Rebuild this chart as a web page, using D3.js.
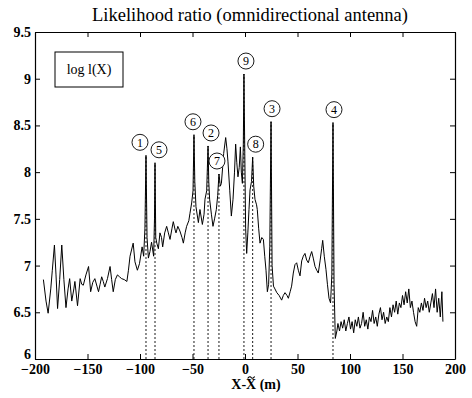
<!DOCTYPE html>
<html><head><meta charset="utf-8">
<script src="https://cdn.jsdelivr.net/npm/d3@7"></script>
<style>
html,body{margin:0;padding:0;background:#fff;}
svg{display:block;}
text{font-family:"Liberation Serif","Times New Roman",serif;fill:#000;}
</style></head>
<body>
<svg id="chart" width="472" height="398"></svg>
<script>
const titleText = "Likelihood ratio (omnidirectional antenna)";
const xLabelText = "X-X (m)";
const legendText = "log l(X)";
const xTicks = [-200,-150,-100,-50,0,50,100,150,200];
const yTicks = [6,6.5,7,7.5,8,8.5,9,9.5];

const posX = [-192,-189.5,-187.5,-185,-183.5,-181.5,-180,-178.5,-176.5,-174.5,-172.5,-170.5,-168.5,-167,-165,-163,-162,-159.5,-157,-155.5,-154,-151.5,-149,-147,-145,-143,-141,-139.5,-138,-136.5,-135,-133.5,-131,-128.5,-127,-125.5,-123.5,-121.5,-119.5,-117.5,-115,-112.5,-111,-109.5,-106.5,-104.8,-102.5,-100.5,-98,-96.5,-95.3,-94.3,-93.3,-92,-90.5,-89,-87,-86.2,-85.7,-85,-84,-82.5,-81,-79.5,-78.4,-76.5,-74.6,-73,-71.4,-69.5,-68.3,-66.5,-65.7,-64,-62,-60,-58.7,-57,-55.6,-53.5,-52.4,-50.8,-49.5,-48.6,-47.8,-46.7,-44.4,-42.9,-40.6,-39,-38.1,-36.5,-35.2,-34.5,-33.7,-32,-30.5,-29,-27.3,-26,-24.8,-23.5,-22.5,-21.3,-20.3,-18.4,-17.2,-16.2,-14.5,-13,-11.4,-10,-8.9,-7.8,-6.7,-5.5,-4.4,-3.5,-2.5,-1.6,-1,-0.2,0.6,1.6,2.7,3.8,4.8,6.2,7.3,8.3,9.5,11,11.7,13,14.3,16,17.5,18.8,20,21.3,22.5,23.6,24.8,25.8,27.1,28.5,30.3,32.5,34.9,36.5,38.1,40,41.3,43,44.4,46,47.6,49.2,50.8,52.4,54,55.5,57.1,58.7,60.3,62,63.5,65,66.7,68.3,69.8,71.5,73,74,75.5,77.1,78.5,80,81.5,82.7,83.8,84.8,86,87.5,88.5,90,91.5,93,94.5,96,97.5,99,100.5,102,103.5,105,106.5,108,109.5,111,112.5,114,115.5,117,118.5,120,121.5,123,124.5,126,127.5,129,130.5,132,133.5,135,136.5,138,139.5,141,142.5,144,145.5,147,148.5,150,151.5,153,154.5,156,157.5,159,160.5,162,163.5,165,166.5,168,169.5,171,172.5,174,175.5,177,178.5,180,181.5,183,184.5,186,187.5,188.5];
const logL = [6.85,6.62,6.49,6.75,6.95,7.22,6.9,6.54,6.85,7.22,6.85,6.55,6.75,6.86,6.62,6.75,6.83,6.57,6.86,6.8,6.79,6.9,6.99,6.72,6.82,6.86,6.78,6.72,6.8,6.88,6.83,6.77,6.86,6.99,6.85,6.72,6.85,6.9,6.88,6.86,6.85,6.83,6.95,7.1,7.24,7.04,6.95,7.02,7.2,7.1,7.4,8.18,7.3,7.08,7.15,7.25,7.1,7.5,8.1,7.3,7.24,7.18,7.35,7.3,7.2,7.35,7.42,7.35,7.28,7.4,7.47,7.38,7.35,7.42,7.37,7.3,7.24,7.35,7.42,7.48,7.56,7.67,7.8,8.40,7.9,7.63,7.46,7.6,7.44,7.55,7.71,7.8,8.28,7.9,7.71,7.55,7.42,7.5,7.6,7.75,7.98,7.85,7.88,8.05,8.2,8.37,8.25,8.11,7.8,7.53,7.71,8.0,8.3,8.1,7.95,8.05,8.27,8.0,7.88,8.3,9.05,8.2,7.4,7.13,7.35,7.6,7.81,7.9,8.16,7.85,7.71,7.65,7.6,7.4,7.24,7.3,7.28,7.1,6.95,6.72,6.8,7.2,8.54,7.0,6.78,6.75,6.71,6.68,6.63,6.68,6.71,6.68,6.65,6.72,6.78,6.92,7.01,7.03,6.95,6.89,7.05,7.1,7.13,7.06,7.03,7.1,7.15,7.08,6.99,6.95,6.92,7.05,7.18,7.27,7.1,6.96,6.8,6.65,6.6,6.9,8.53,6.8,6.22,6.3,6.38,6.3,6.4,6.33,6.42,6.3,6.38,6.45,6.32,6.4,6.28,6.42,6.35,6.45,6.33,6.38,6.5,6.35,6.42,6.32,6.45,6.4,6.52,6.38,6.45,6.35,6.48,6.55,6.42,6.5,6.38,6.45,6.4,6.55,6.45,6.58,6.5,6.62,6.48,6.6,6.55,6.68,6.58,6.72,6.6,6.75,6.55,6.62,6.5,6.4,6.35,6.55,6.5,6.6,6.52,6.65,6.55,6.62,6.5,6.6,6.7,6.55,6.75,6.5,6.65,6.45,6.72,6.4];

const markerLabels = ["1","5","6","2","7","9","8","3","4"];
const markerX = [-94.3,-85.7,-48.6,-35.2,-24.8,-1,7.3,24.8,83.8];
const markerPeak = [8.18,8.1,8.40,8.28,7.98,9.05,8.16,8.54,8.53];
const markerDx = [-6,4,-1,3,-2,2,3,1,1];

const svg = d3.select("#chart");
const L = 35, R = 455, T = 32, B = 359;
const x = d3.scaleLinear().domain([-200,200]).range([L,R]);
const y = d3.scaleLinear().domain([6,9.5]).range([B,T]);

// title
svg.append("text").attr("x",250).attr("y",21).attr("text-anchor","middle")
  .style("font-size","18.5px").text(titleText);

// dashed verticals
svg.append("g").selectAll("line").data(markerX).join("line")
  .attr("x1",d=>x(d)).attr("x2",d=>x(d))
  .attr("y1",B).attr("y2",(d,i)=>y(markerPeak[i]))
  .attr("stroke","#000").attr("stroke-width",0.9).attr("stroke-dasharray","2,2");

// curve
const line = d3.line().x(d=>x(d[0])).y(d=>y(d[1]));
svg.append("path").datum(posX.map((v,i)=>[v,logL[i]]))
  .attr("d",line).attr("fill","none").attr("stroke","#000").attr("stroke-width",1);

// axes (boxed, inward ticks)
const fmt = d => (d<0 ? "\u2212"+Math.abs(d) : String(d));
const gB = svg.append("g").attr("transform",`translate(0,${B})`)
  .call(d3.axisBottom(x).tickValues(xTicks).tickSizeInner(-5).tickSizeOuter(0).tickPadding(5).tickFormat(fmt));
const gT = svg.append("g").attr("transform",`translate(0,${T})`)
  .call(d3.axisTop(x).tickValues(xTicks).tickSizeInner(-5).tickSizeOuter(0).tickFormat(""));
const gL = svg.append("g").attr("transform",`translate(${L},0)`)
  .call(d3.axisLeft(y).tickValues(yTicks).tickSizeInner(-5).tickSizeOuter(0).tickPadding(4).tickFormat(d=>String(d)));
const gR = svg.append("g").attr("transform",`translate(${R},0)`)
  .call(d3.axisRight(y).tickValues(yTicks).tickSizeInner(-5).tickSizeOuter(0).tickFormat(""));
[gB,gT,gL,gR].forEach(g=>{
  g.selectAll("path").attr("stroke","#000").attr("stroke-width",1.2);
  g.selectAll("line").attr("stroke","#000");
  g.selectAll("text").style("font-family","'Liberation Serif',serif").style("font-size","14px").style("font-weight","bold").attr("fill","#000");
});
// lift the lowest y label slightly so it clears the x tick label below it
gL.selectAll(".tick").filter(d=>d===6).select("text").attr("dy","-0.05em");

// x label with a drawn tilde over the second X
const xl = svg.append("text").attr("x",256).attr("y",389).attr("text-anchor","middle")
  .style("font-size","14px").style("font-weight","bold").text(xLabelText);
const n = xl.node();
const s = n.getStartPositionOfChar(2), e = n.getEndPositionOfChar(2);
const cx = (s.x+e.x)/2, ty = 377.5;
svg.append("path")
  .attr("d",`M${cx-3.5},${ty+1} C${cx-2},${ty-1.5} ${cx-0.5},${ty-1} ${cx},${ty} S${cx+2},${ty+1.5} ${cx+3.5},${ty-1}`)
  .attr("fill","none").attr("stroke","#000").attr("stroke-width",1.1);

// legend
svg.append("rect").attr("x",55).attr("y",52).attr("width",68).attr("height",35)
  .attr("fill","#fff").attr("stroke","#000").attr("stroke-width",1);
svg.append("text").attr("x",89).attr("y",74).attr("text-anchor","middle")
  .style("font-size","14px").text(legendText);

// markers
const mg = svg.append("g").selectAll("g").data(markerLabels).join("g")
  .attr("transform",(d,i)=>`translate(${x(markerX[i])+markerDx[i]},${y(markerPeak[i])-13})`);
mg.append("circle").attr("r",8).attr("fill","#fff").attr("stroke","#000").attr("stroke-width",0.9);
mg.append("text").attr("text-anchor","middle").attr("dy","0.35em")
  .style("font-size","12px").text(d=>d);
</script>
</body></html>
